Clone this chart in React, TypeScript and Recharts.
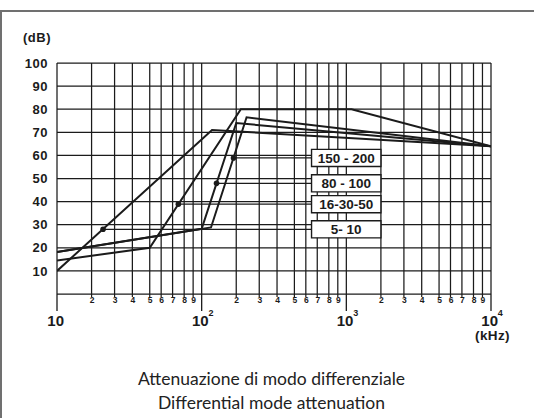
import {
  ComposedChart,
  Line,
  Scatter,
  XAxis,
  YAxis,
  CartesianGrid,
  ReferenceLine,
  ReferenceArea,
} from 'recharts'

const INK = '#1b1b1b'
const FRAME = '#707070'
const BOLD = '"Liberation Sans", Arial, sans-serif'

// attenuation curves: frequency in kHz, attenuation in dB
const CURVE_5_10 = [
  { f: 10, db: 10 },
  { f: 130, db: 71 },
  { f: 10000, db: 64 },
]
const CURVE_16_30_50 = [
  { f: 10, db: 14.5 },
  { f: 50, db: 20 },
  { f: 220, db: 80 },
  { f: 1150, db: 80 },
  { f: 10000, db: 64 },
]
const CURVE_80_100 = [
  { f: 10, db: 18.2 },
  { f: 100, db: 28.2 },
  { f: 200, db: 74 },
  { f: 10000, db: 64 },
]
const CURVE_150_200 = [
  { f: 10, db: 18.2 },
  { f: 127, db: 28.8 },
  { f: 245, db: 76.5 },
  { f: 10000, db: 64 },
]
const CURVES = [CURVE_5_10, CURVE_16_30_50, CURVE_80_100, CURVE_150_200]

// marked point on each curve, with the text of its label box
const MARKERS = [
  { name: '150 - 200', f: 192, db: 58.9 },
  { name: '80 - 100', f: 143, db: 47.9 },
  { name: '16-30-50', f: 75, db: 38.9 },
  { name: '5- 10', f: 25, db: 28 },
]

const DB_TICKS = [0, 10, 20, 30, 40, 50, 60, 70, 80, 90, 100]
const FREQ_TICKS = [
  10, 20, 30, 40, 50, 60, 70, 80, 90,
  100, 200, 300, 400, 500, 600, 700, 800, 900,
  1000, 2000, 3000, 4000, 5000, 6000, 7000, 8000, 9000,
  10000,
]

// label boxes span these frequencies
const BOX_FROM = 650
const BOX_TO = 2000
const BOX_HALF_DB = 3.7

// the printed grid is not a true log grid: where 1..10 sit inside a decade
const DECADE_GRID = [0, 0.239, 0.398, 0.521, 0.641, 0.72, 0.799, 0.879, 0.941, 1]

function decadePos(v: number) {
  const exp = Math.floor(Math.log10(v) + 1e-9)
  const m = v / Math.pow(10, exp)
  const i = Math.min(Math.max(Math.floor(m + 1e-9), 1), 9)
  return exp + DECADE_GRID[i - 1] + (DECADE_GRID[i] - DECADE_GRID[i - 1]) * (m - i)
}

function printedLogScale() {
  let dom = [10, 10000]
  let rng = [0, 1]
  const scale: any = (v: number) => {
    const p0 = decadePos(dom[0])
    const p1 = decadePos(dom[1])
    return rng[0] + ((rng[1] - rng[0]) * (decadePos(v) - p0)) / (p1 - p0)
  }
  scale.domain = (d?: number[]) => {
    if (!d) return dom.slice()
    dom = d.map(Number)
    return scale
  }
  scale.range = (r?: number[]) => {
    if (!r) return rng.slice()
    rng = r.map(Number)
    return scale
  }
  scale.copy = () => printedLogScale().domain(dom).range(rng)
  scale.ticks = () => FREQ_TICKS
  scale.tickFormat = () => (v: number) => String(v)
  scale.clamp = () => scale
  return scale
}

const FREQ_SCALE = printedLogScale()

function FreqTick({ x, y, payload }: any) {
  const v = payload.value as number
  const exp = Math.floor(Math.log10(v) + 1e-9)
  const digit = Math.round(v / Math.pow(10, exp))
  if (digit === 1) {
    return (
      <g>
        <line x1={x} x2={x} y1={y} y2={y + 17} stroke={INK} strokeWidth={1.3} />
        <text x={x - 1.3} y={y + 32} textAnchor="middle" fontFamily={BOLD} fontWeight="bold" fontSize={15} fill={INK}>
          10
        </text>
        {exp > 1 && (
          <text x={x + 9.3} y={y + 22} textAnchor="middle" fontFamily={BOLD} fontWeight="bold" fontSize={9} fill={INK}>
            {exp}
          </text>
        )}
      </g>
    )
  }
  return (
    <g>
      <line x1={x} x2={x} y1={y} y2={y + 3} stroke={INK} strokeWidth={1.2} />
      <text x={x + 0.5} y={y + 9.3} textAnchor="middle" fontFamily={BOLD} fontWeight="bold" fontSize={8.5} fill={INK}>
        {digit}
      </text>
    </g>
  )
}

export default function App() {
  return (
    <div style={{ position: 'absolute', left: 0, top: 0, width: 534, height: 418, background: '#fff', overflow: 'hidden' }}>
      <div
        style={{
          position: 'absolute',
          left: 0,
          top: 9.5,
          width: 540,
          height: 420,
          borderTop: `2px solid ${FRAME}`,
          borderLeft: `2px solid ${FRAME}`,
        }}
      />
      <ComposedChart width={534} height={418} margin={{ top: 63, right: 43, bottom: 64, left: 0 }}>
        <CartesianGrid stroke={INK} strokeWidth={1.25} />
        <XAxis
          type="number"
          dataKey="f"
          scale={FREQ_SCALE}
          domain={[10, 10000]}
          allowDataOverflow
          ticks={FREQ_TICKS}
          interval={0}
          tick={<FreqTick />}
          tickLine={false}
          axisLine={false}
          tickSize={0}
          tickMargin={0}
          height={60}
        />
        <YAxis
          type="number"
          domain={[0, 100]}
          ticks={DB_TICKS}
          interval={0}
          width={57}
          axisLine={false}
          tickLine={false}
          tickSize={0}
          tickMargin={9}
          tickFormatter={(v: number) => (v === 0 ? '' : String(v))}
          tick={{ fill: INK, fontSize: 13, fontWeight: 'bold', fontFamily: BOLD, letterSpacing: 0.5 }}
        />
        {MARKERS.map(m => (
          <ReferenceLine
            key={'lead' + m.name}
            segment={[
              { x: m.f, y: m.db },
              { x: BOX_FROM, y: m.db },
            ]}
            stroke={INK}
            strokeWidth={1.2}
          />
        ))}
        {MARKERS.map(m => (
          <ReferenceArea
            key={'box' + m.name}
            x1={BOX_FROM}
            x2={BOX_TO}
            y1={m.db - BOX_HALF_DB}
            y2={m.db + BOX_HALF_DB}
            fill="#fff"
            fillOpacity={1}
            stroke={INK}
            strokeWidth={1.4}
            label={{
              value: m.name,
              position: 'center',
              fill: INK,
              fontSize: 13.5,
              fontWeight: 'bold',
              fontFamily: BOLD,
            }}
          />
        ))}
        {CURVES.map((c, i) => (
          <Line
            key={i}
            data={c}
            dataKey="db"
            type="linear"
            stroke={INK}
            strokeWidth={2}
            dot={false}
            activeDot={false}
            isAnimationActive={false}
          />
        ))}
        <Scatter
          data={MARKERS}
          dataKey="db"
          fill={INK}
          isAnimationActive={false}
          shape={(p: any) => <circle cx={p.cx} cy={p.cy} r={2.8} fill={INK} />}
        />
      </ComposedChart>
      <div style={{ position: 'absolute', left: 23, top: 30, fontFamily: BOLD, fontWeight: 'bold', fontSize: 13, letterSpacing: 0.5, color: INK, lineHeight: '16px' }}>
        (dB)
      </div>
      <div style={{ position: 'absolute', left: 475, top: 329, fontFamily: BOLD, fontWeight: 'bold', fontSize: 13.5, letterSpacing: 0.4, color: INK, lineHeight: '14px' }}>
        (kHz)
      </div>
      <div
        style={{
          position: 'absolute',
          left: 0,
          width: 543,
          top: 367,
          textAlign: 'center',
          fontFamily: 'Lato, "Open Sans", sans-serif',
          fontSize: 17.5,
          lineHeight: '24px',
          color: '#222',
        }}
      >
        <div>Attenuazione di modo differenziale</div>
        <div>Differential mode attenuation</div>
      </div>
    </div>
  )
}
